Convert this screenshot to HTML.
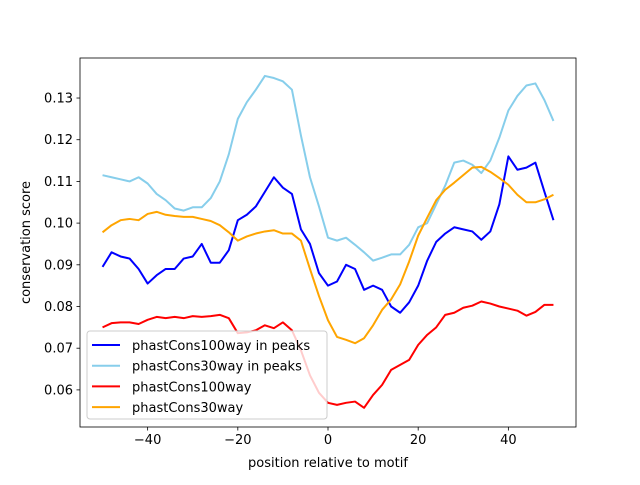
<!DOCTYPE html>
<html><head><meta charset="utf-8"><style>
body{margin:0;background:#fff;}
svg text{font-family:"DejaVu Sans","Liberation Sans",sans-serif;font-size:13px;fill:#000;}
</style></head><body>
<svg id="chart" width="640" height="480"></svg>
<script>
const positions=[];for(let i=-50;i<=50;i+=2)positions.push(i);
const cons100Peaks=[0.0895,0.093,0.092,0.0915,0.089,0.0855,0.0875,0.089,0.089,0.0915,0.092,0.095,0.0905,0.0905,0.0935,0.1007,0.102,0.104,0.1075,0.111,0.1085,0.107,0.0985,0.095,0.088,0.085,0.086,0.09,0.089,0.084,0.085,0.084,0.08,0.0785,0.081,0.085,0.091,0.0955,0.0975,0.099,0.0985,0.098,0.096,0.098,0.1045,0.116,0.1128,0.1133,0.1145,0.1075,0.1007];
const cons30Peaks=[0.1115,0.111,0.1105,0.110,0.111,0.1095,0.107,0.1055,0.1035,0.103,0.1038,0.1038,0.106,0.110,0.1165,0.125,0.129,0.132,0.1353,0.1348,0.134,0.132,0.121,0.111,0.104,0.0965,0.0958,0.0965,0.0948,0.093,0.091,0.0917,0.0925,0.0925,0.0948,0.099,0.100,0.1045,0.109,0.1145,0.115,0.114,0.112,0.115,0.1205,0.127,0.1305,0.133,0.1335,0.1295,0.1245];
const cons100=[0.075,0.076,0.0762,0.0762,0.0758,0.0768,0.0775,0.0772,0.0775,0.0772,0.0777,0.0775,0.0777,0.078,0.0772,0.0736,0.0738,0.0743,0.0755,0.0748,0.0762,0.0743,0.0695,0.0635,0.0593,0.0569,0.0564,0.0569,0.0572,0.0557,0.0588,0.0612,0.0648,0.066,0.0672,0.0708,0.0732,0.075,0.078,0.0785,0.0797,0.0802,0.0812,0.0807,0.08,0.0795,0.079,0.0778,0.0787,0.0804,0.0804];
const cons30=[0.0978,0.0995,0.1007,0.101,0.1007,0.1022,0.1027,0.102,0.1017,0.1015,0.1015,0.101,0.1005,0.0995,0.0978,0.0958,0.0968,0.0975,0.098,0.0983,0.0975,0.0975,0.0958,0.089,0.0825,0.0767,0.0727,0.072,0.0712,0.0724,0.0755,0.0792,0.0817,0.0853,0.0908,0.097,0.1013,0.1055,0.108,0.1097,0.1115,0.1133,0.1135,0.1123,0.1108,0.1092,0.1068,0.105,0.105,0.1057,0.1068];
const xTicks=[-40,-20,0,20,40];
const yTicks=[0.06,0.07,0.08,0.09,0.10,0.11,0.12,0.13];
const seriesNames=["phastCons100way in peaks","phastCons30way in peaks","phastCons100way","phastCons30way"];
const seriesColors=["#0000ff","#87ceeb","#ff0000","#ffa500"];
const L=80,R=576,T=58,B=427;
const xMin=-55,xMax=55,yMin=0.0511,yMax=0.1396;
const sx=v=>L+(v-xMin)/(xMax-xMin)*(R-L);
const sy=v=>B-(v-yMin)/(yMax-yMin)*(B-T);
const NS="http://www.w3.org/2000/svg";
const svg=document.getElementById('chart');
function mk(tag,attrs,parent){const e=document.createElementNS(NS,tag);for(const k in attrs)e.setAttribute(k,attrs[k]);(parent||svg).appendChild(e);return e;}
const data=[cons100Peaks,cons30Peaks,cons100,cons30];
data.forEach((s,i)=>{
  const p=mk('polyline',{points:s.map((v,j)=>sx(positions[j])+','+sy(v)).join(' '),fill:'none',stroke:seriesColors[i],'stroke-width':2,'stroke-linejoin':'round'});
  
  
});
const frame=mk('rect',{x:L,y:T,width:R-L,height:B-T,fill:'none',stroke:'#000','stroke-width':0.8});


xTicks.forEach(t=>{
  const x=sx(t);
  const tk=mk('line',{x1:x,x2:x,y1:B,y2:B+3.5,stroke:'#000','stroke-width':0.8});
  
  
  const tx=mk('text',{x:x,y:B+17,'text-anchor':'middle'});
  tx.textContent=t<0?'\u2212'+(-t):String(t);
  
  
});
yTicks.forEach(t=>{
  const y=sy(t);
  const tk=mk('line',{x1:L-3.5,x2:L,y1:y,y2:y,stroke:'#000','stroke-width':0.8});
  
  
  const tx=mk('text',{x:L-7,y:y+4.5,'text-anchor':'end'});
  tx.textContent=t.toFixed(2);
  
  
});
const xt=mk('text',{x:(L+R)/2,y:467,'text-anchor':'middle'});xt.textContent='position relative to motif';


const yt=mk('text',{x:0,y:0,'text-anchor':'middle',transform:'translate(30,'+((T+B)/2)+') rotate(-90)'});yt.textContent='conservation score';


const lg=mk('g',{});


mk('rect',{x:87,y:331,width:240,height:88,rx:3,fill:'#fff','fill-opacity':0.8,stroke:'#ccc','stroke-width':1},lg);
seriesNames.forEach((n,i)=>{
  const y=345+i*20.7;
  const ln=mk('line',{x1:92,x2:120,y1:y,y2:y,stroke:seriesColors[i],'stroke-width':2},lg);
  
  
  const t=mk('text',{x:132,y:y+5},lg);t.textContent=n;
  
  
});
</script>
</body></html>
